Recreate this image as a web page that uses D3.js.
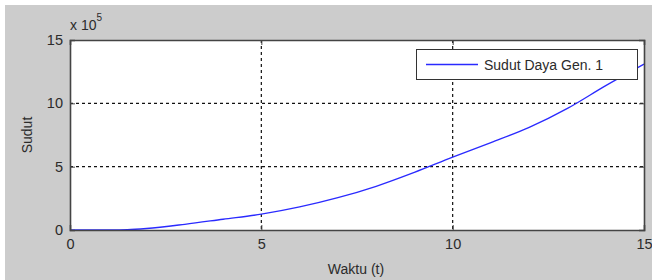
<!DOCTYPE html>
<html>
<head>
<meta charset="utf-8">
<script src="https://cdn.jsdelivr.net/npm/d3@7"></script>
<style>
html,body{margin:0;padding:0;background:#fff;}
svg{display:block;}
text{font-family:Arial,"Liberation Sans",sans-serif;fill:#2b2b2b;}
</style>
</head>
<body>
<script>
// Data (y values in units of 10^5)
const timeValues = [0, 1, 1.5, 2, 3, 4, 5, 6, 7, 8, 9, 10, 11, 12, 13, 14, 15];
const sudutValues = [0, 0.01, 0.03, 0.12, 0.45, 0.85, 1.25, 1.82, 2.55, 3.45, 4.55, 5.75, 6.9, 8.1, 9.6, 11.4, 13.1];
const xTicks = [0, 5, 10, 15];
const yTicks = [0, 5, 10, 15];
const seriesName = "Sudut Daya Gen. 1";
const xLabel = "Waktu (t)";
const yLabel = "Sudut";

const W = 652, H = 280;
const plot = {left: 70, right: 644, top: 40, bottom: 230};

const svg = d3.select("body").append("svg").attr("width", W).attr("height", H);
svg.append("rect").attr("x", 5).attr("y", 5).attr("width", W - 5).attr("height", H - 5).attr("fill", "#cccccc");
svg.append("rect").attr("x", plot.left).attr("y", plot.top)
  .attr("width", plot.right - plot.left).attr("height", plot.bottom - plot.top).attr("fill", "#fff");

const x = d3.scaleLinear().domain([0, 15]).range([plot.left, plot.right]);
const y = d3.scaleLinear().domain([0, 15]).range([plot.bottom, plot.top]);

// grid
const g = svg.append("g");
g.selectAll(".gx").data(xTicks.filter(d => d > 0 && d < 15)).enter().append("line")
  .attr("x1", d => x(d)).attr("x2", d => x(d)).attr("y1", plot.top).attr("y2", plot.bottom)
  .attr("stroke", "#111").attr("stroke-width", 1.2).attr("stroke-dasharray", "3,3");
g.selectAll(".gy").data(yTicks.filter(d => d > 0 && d < 15)).enter().append("line")
  .attr("x1", plot.left).attr("x2", plot.right).attr("y1", d => y(d)).attr("y2", d => y(d))
  .attr("stroke", "#111").attr("stroke-width", 1.2).attr("stroke-dasharray", "3,3");

// line
const line = d3.line().x((d, i) => x(timeValues[i])).y(d => y(d)).curve(d3.curveMonotoneX);
svg.append("path").datum(sudutValues).attr("d", line)
  .attr("fill", "none").attr("stroke", "#2a2aff").attr("stroke-width", 1.3);

// axes
const xAxis = svg.append("g").attr("transform", `translate(0,${plot.bottom})`)
  .call(d3.axisBottom(x).tickValues(xTicks).tickSize(-5).tickPadding(9));
const yAxis = svg.append("g").attr("transform", `translate(${plot.left},0)`)
  .call(d3.axisLeft(y).tickValues(yTicks).tickSize(-5).tickPadding(7));
const xAxisTop = svg.append("g").attr("transform", `translate(0,${plot.top})`)
  .call(d3.axisTop(x).tickValues(xTicks).tickSize(-5).tickFormat(""));
const yAxisR = svg.append("g").attr("transform", `translate(${plot.right},0)`)
  .call(d3.axisRight(y).tickValues(yTicks).tickSize(-5).tickFormat(""));
[xAxis, yAxis, xAxisTop, yAxisR].forEach(a => {
  a.select(".domain").attr("stroke", "#444").attr("stroke-width", 1.6);
  a.selectAll(".tick line").attr("stroke", "#444");
  a.selectAll(".tick text").attr("font-size", 14.5).attr("fill", "#2b2b2b")
    .attr("font-family", "Arial, 'Liberation Sans', sans-serif");
});

// exponent label
const ex = svg.append("text").attr("x", 70).attr("y", 30).attr("font-size", 14);
ex.append("tspan").text("x 10");
ex.append("tspan").attr("dy", -9).attr("font-size", 10).text("5");

// axis labels
svg.append("text").attr("x", 356).attr("y", 274).attr("text-anchor", "middle")
  .attr("font-size", 14).text(xLabel);
svg.append("text").attr("transform", "translate(32,135) rotate(-90)").attr("text-anchor", "middle")
  .attr("font-size", 14).text(yLabel);

// legend
const lg = svg.append("g");
lg.append("rect").attr("x", 416.5).attr("y", 49.5).attr("width", 221).attr("height", 30)
  .attr("fill", "#fff").attr("stroke", "#333").attr("stroke-width", 1);
lg.append("line").attr("x1", 426).attr("x2", 478).attr("y1", 64.5).attr("y2", 64.5)
  .attr("stroke", "#2a2aff").attr("stroke-width", 1.3);
lg.append("text").attr("x", 484).attr("y", 70).attr("font-size", 14).text(seriesName);
</script>
</body>
</html>
